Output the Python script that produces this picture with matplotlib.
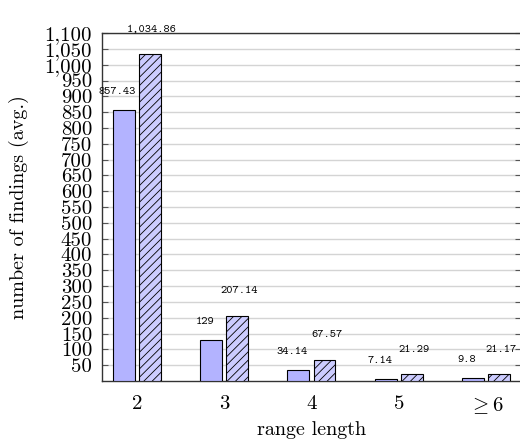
"""Average number of findings by range length, grouped bars."""

import matplotlib

matplotlib.use("Agg")
import matplotlib.pyplot as plt
import numpy as np

categories = ["2", "3", "4", "5", r"$\geq 6$"]
series_a = [857.43, 129, 34.14, 7.14, 9.8]
series_b = [1034.86, 207.14, 67.57, 21.29, 21.17]
label_a = ["857.43", "129", "34.14", "7.14", "9.8"]
label_b = ["1,034.86", "207.14", "67.57", "21.29", "21.17"]
ytick_values = list(range(50, 1101, 50))
ytick_labels = [f"{v:,}" for v in ytick_values]

plt.rcParams["mathtext.fontset"] = "cm"
plt.rcParams["font.family"] = ["cmr10", "DejaVu Serif"]
plt.rcParams["axes.unicode_minus"] = False
plt.rcParams["hatch.linewidth"] = 0.6

fig = plt.figure(figsize=(5.2, 4.41), dpi=100)
ax = fig.add_axes([0.196, 0.136, 0.806, 0.789])

x = np.arange(len(categories))
offset = 0.15
width = 0.25
bars_a = ax.bar(x - offset, series_a, width, color="#b3b3ff", edgecolor="black", linewidth=0.8, zorder=3)
bars_b = ax.bar(x + offset, series_b, width, color="#ccccff", edgecolor="black", linewidth=0.8,
                hatch="////", zorder=3)

for bar, text in zip(bars_a, label_a):
    ax.annotate(text, (bar.get_x() + bar.get_width() / 2, bar.get_height()), xytext=(-4.5, 9.5),
                textcoords="offset points", ha="center", va="bottom", fontsize=8.5, family="cmtt10")
for bar, text in zip(bars_b, label_b):
    ax.annotate(text, (bar.get_x() + bar.get_width() / 2, bar.get_height()), xytext=(1.5, 14),
                textcoords="offset points", ha="center", va="bottom", fontsize=8.5, family="cmtt10",
                annotation_clip=False)

ax.set_xlim(-0.4, 4.4)
ax.set_ylim(0, 1100)
ax.set_xticks(x)
ax.set_xticklabels(categories, fontsize=15)
ax.set_yticks(ytick_values)
ax.set_yticklabels(ytick_labels, fontsize=15)
ax.tick_params(axis="y", direction="in", length=4, right=True, pad=7, color="#555555")
ax.tick_params(axis="x", length=0, pad=10)
ax.grid(axis="y", color="#d4d4d4", linewidth=1.0, zorder=0)
for spine in ax.spines.values():
    spine.set_color("#333333")
    spine.set_linewidth(1.0)

ax.set_xlabel("range length", fontsize=14.5, labelpad=4)
ax.set_ylabel("number of findings (avg.)", fontsize=14.5, labelpad=11)

fig.savefig("out.png", dpi=100)
